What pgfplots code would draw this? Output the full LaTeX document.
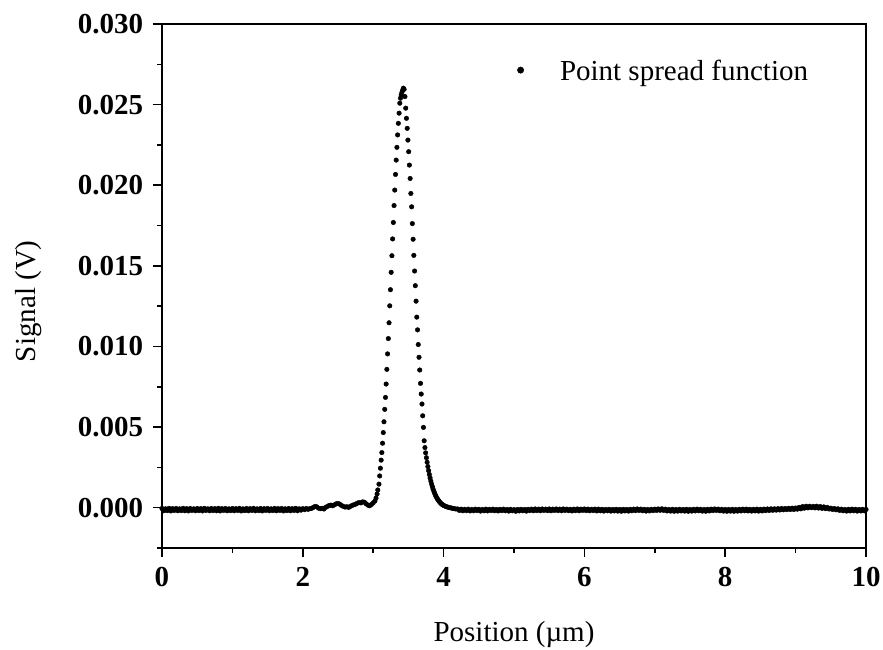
\documentclass[border=0pt]{standalone}
\usepackage{pgfplots}
\pgfplotsset{compat=1.18}
\usepackage{fontspec}
\setmainfont{Liberation Serif}

% Measured point spread function: position (um) vs. detector signal (V)
\pgfplotstableread{
x y
3.082 0.00146
3.092 0.00197
3.102 0.00245
3.113 0.00295
3.123 0.00342
3.133 0.00400
3.143 0.00466
3.153 0.00533
3.164 0.00610
3.174 0.00684
3.184 0.00767
3.194 0.00858
3.204 0.00954
3.215 0.01049
3.225 0.01147
3.235 0.01252
3.245 0.01352
3.255 0.01460
3.266 0.01563
3.276 0.01667
3.286 0.01769
3.296 0.01874
3.306 0.01970
3.317 0.02067
3.327 0.02156
3.337 0.02235
3.347 0.02312
3.357 0.02384
3.368 0.02447
3.378 0.02509
3.388 0.02540
3.398 0.02560
3.408 0.02575
3.419 0.02590
3.429 0.02602
3.439 0.02595
3.451 0.02550
3.462 0.02478
3.472 0.02415
3.483 0.02353
3.493 0.02280
3.504 0.02208
3.514 0.02125
3.525 0.02042
3.535 0.01949
3.546 0.01866
3.556 0.01762
3.567 0.01665
3.577 0.01565
3.588 0.01468
3.598 0.01377
3.609 0.01281
3.619 0.01182
3.630 0.01103
3.640 0.01012
3.651 0.00933
3.661 0.00854
3.672 0.00771
3.682 0.00705
3.693 0.00643
3.703 0.00570
3.714 0.00498
3.724 0.00415
3.735 0.00373
3.745 0.00340
3.756 0.00310
3.766 0.00282
3.777 0.00255
3.787 0.00230
3.798 0.00206
3.808 0.00185
3.819 0.00165
3.829 0.00147
3.840 0.00131
3.850 0.00116
3.861 0.00103
3.871 0.00091
3.882 0.00080
3.892 0.00070
3.903 0.00062
3.913 0.00054
3.924 0.00047
3.934 0.00041
3.945 0.00035
3.955 0.00030
3.966 0.00025
3.976 0.00021
3.987 0.00018
3.997 0.00015
4.010 0.00012
4.030 0.00008
4.050 0.00005
4.070 0.00002
4.090 0.00000
4.110 -0.00002
4.130 -0.00004
4.150 -0.00006
4.175 -0.00008
}\peaktable

\begin{document}
\fontsize{29pt}{34pt}\selectfont
\begin{tikzpicture}
\useasboundingbox (-162pt,-101pt) rectangle (721pt,548pt);
\begin{axis}[
  at={(0pt,0pt)}, anchor=south west,
  scale only axis, width=704pt, height=524pt,
  xmin=0, xmax=10, ymin=-0.0025, ymax=0.030,
  axis line style={line width=2pt},
  xtick={0,2,4,6,8,10}, minor xtick={1,3,5,7,9},
  ytick={0,0.005,0.01,0.015,0.02,0.025,0.03},
  minor ytick={-0.0025,0.0025,0.0075,0.0125,0.0175,0.0225,0.0275},
  xtick pos=left, ytick pos=left,
  tick align=outside, major tick length=9pt, minor tick length=5pt,
  every tick/.style={line width=1.5pt, black},
  scaled y ticks=false,
  /pgf/number format/assume math mode=true,
  yticklabel style={/pgf/number format/.cd, fixed, fixed zerofill, precision=3},
  tick label style={font=\bfseries},
  xticklabel style={anchor=base, yshift=-29.7pt},
  xlabel={Position (µm)},
  ylabel={Signal (V)},
  xlabel style={at={(axis description cs:0.5,-0.179)}, anchor=base},
  ylabel style={at={(axis description cs:-0.190,0.471)}, anchor=center},
  legend style={draw=none, fill=none, at={(axis description cs:0.5,0.936)},
    anchor=north west, nodes={inner sep=0pt},
    /tikz/every odd column/.append style={column sep=36pt}},
  legend image code/.code={\fill[black] (0pt,2pt) circle (3.2pt);},
  legend cell align=left,
]
\addplot[only marks, mark=*, mark size=2.3pt, black] coordinates {
(0.000,-0.00005) (0.025,-0.00019) (0.050,-0.00007) (0.075,-0.00018) (0.100,-0.00004) (0.125,-0.00020) (0.150,-0.00006) (0.175,-0.00017) (0.200,-0.00005) (0.225,-0.00019)
(0.250,-0.00007) (0.275,-0.00018) (0.300,-0.00004) (0.325,-0.00019) (0.350,-0.00006) (0.375,-0.00020) (0.400,-0.00005) (0.425,-0.00017) (0.450,-0.00007) (0.475,-0.00019)
(0.500,-0.00005) (0.525,-0.00018) (0.550,-0.00006) (0.575,-0.00020) (0.600,-0.00004) (0.625,-0.00017) (0.650,-0.00007) (0.675,-0.00019) (0.700,-0.00005) (0.725,-0.00018)
(0.750,-0.00006) (0.775,-0.00019) (0.800,-0.00004) (0.825,-0.00020) (0.850,-0.00006) (0.875,-0.00017) (0.900,-0.00005) (0.925,-0.00019) (0.950,-0.00007) (0.975,-0.00018)
(1.000,-0.00005) (1.025,-0.00019) (1.050,-0.00006) (1.075,-0.00017) (1.100,-0.00004) (1.125,-0.00020) (1.150,-0.00007) (1.175,-0.00018) (1.200,-0.00005) (1.225,-0.00019)
(1.250,-0.00006) (1.275,-0.00017) (1.300,-0.00004) (1.325,-0.00019) (1.350,-0.00007) (1.375,-0.00018) (1.400,-0.00005) (1.425,-0.00020) (1.450,-0.00006) (1.475,-0.00017)
(1.500,-0.00005) (1.525,-0.00019) (1.550,-0.00007) (1.575,-0.00018) (1.600,-0.00004) (1.625,-0.00019) (1.650,-0.00006) (1.675,-0.00017) (1.700,-0.00005) (1.725,-0.00020)
(1.750,-0.00007) (1.775,-0.00018) (1.800,-0.00005) (1.825,-0.00019) (1.850,-0.00006) (1.875,-0.00017) (1.900,-0.00004) (1.925,-0.00019) (1.950,-0.00007) (1.975,-0.00015)
(2.000,-0.00006) (2.025,-0.00012) (2.050,-0.00005) (2.075,-0.00010)
(2.100,-0.00006) (2.125,-0.00004) (2.150,0.00002) (2.175,0.00008) (2.200,0.00005) (2.225,-0.00003) (2.250,-0.00006) (2.275,-0.00004) (2.300,-0.00008) (2.325,0.00002)
(2.350,0.00008) (2.375,0.00014) (2.400,0.00016) (2.425,0.00012) (2.450,0.00018) (2.475,0.00024) (2.500,0.00026) (2.525,0.00022) (2.550,0.00014) (2.575,0.00008)
(2.600,0.00004) (2.625,0.00006) (2.650,0.00002) (2.675,0.00008) (2.700,0.00014) (2.725,0.00018) (2.750,0.00022) (2.775,0.00028) (2.800,0.00032) (2.825,0.00030)
(2.850,0.00036) (2.875,0.00034) (2.900,0.00024) (2.925,0.00016) (2.950,0.00012) (2.975,0.00020) (3.000,0.00030) (3.025,0.00042) (3.040,0.00060) (3.055,0.00085)
(3.065,0.00110)
(4.200,-0.00008) (4.225,-0.00017) (4.250,-0.00009) (4.275,-0.00019) (4.300,-0.00010) (4.325,-0.00018) (4.350,-0.00009) (4.375,-0.00020) (4.400,-0.00011) (4.425,-0.00019)
(4.450,-0.00009) (4.475,-0.00018) (4.500,-0.00010) (4.525,-0.00021) (4.550,-0.00011) (4.575,-0.00019) (4.600,-0.00009) (4.625,-0.00020) (4.650,-0.00010) (4.675,-0.00018)
(4.700,-0.00009) (4.725,-0.00019) (4.750,-0.00011) (4.775,-0.00020) (4.800,-0.00010) (4.825,-0.00018) (4.850,-0.00009) (4.875,-0.00019) (4.900,-0.00011) (4.925,-0.00021)
(4.950,-0.00010) (4.975,-0.00019) (5.000,-0.00012) (5.025,-0.00022) (5.050,-0.00011) (5.075,-0.00020) (5.100,-0.00010) (5.125,-0.00019) (5.150,-0.00011) (5.175,-0.00021)
(5.200,-0.00010) (5.225,-0.00018) (5.250,-0.00009) (5.275,-0.00019) (5.300,-0.00008) (5.325,-0.00018) (5.350,-0.00009) (5.375,-0.00019) (5.400,-0.00008) (5.425,-0.00017)
(5.450,-0.00009) (5.475,-0.00018) (5.500,-0.00008) (5.525,-0.00019) (5.550,-0.00009) (5.575,-0.00017) (5.600,-0.00008) (5.625,-0.00018) (5.650,-0.00009) (5.675,-0.00019)
(5.700,-0.00008) (5.725,-0.00017) (5.750,-0.00009) (5.775,-0.00018) (5.800,-0.00010) (5.825,-0.00020) (5.850,-0.00009) (5.875,-0.00018) (5.900,-0.00008) (5.925,-0.00019)
(5.950,-0.00009) (5.975,-0.00017) (6.000,-0.00008) (6.025,-0.00018) (6.050,-0.00009) (6.075,-0.00019) (6.100,-0.00010) (6.125,-0.00018) (6.150,-0.00009) (6.175,-0.00020)
(6.200,-0.00009) (6.225,-0.00019) (6.250,-0.00010) (6.275,-0.00021) (6.300,-0.00011) (6.325,-0.00019) (6.350,-0.00010) (6.375,-0.00021) (6.400,-0.00011) (6.425,-0.00020)
(6.450,-0.00010) (6.475,-0.00021) (6.500,-0.00011) (6.525,-0.00022) (6.550,-0.00010) (6.575,-0.00020) (6.600,-0.00011) (6.625,-0.00021) (6.650,-0.00010) (6.675,-0.00019)
(6.700,-0.00009) (6.725,-0.00018) (6.750,-0.00008) (6.775,-0.00017) (6.800,-0.00009) (6.825,-0.00019) (6.850,-0.00010) (6.875,-0.00021) (6.900,-0.00011) (6.925,-0.00020)
(6.950,-0.00010) (6.975,-0.00018) (7.000,-0.00009) (7.025,-0.00017) (7.050,-0.00008) (7.075,-0.00016) (7.100,-0.00007) (7.125,-0.00017) (7.150,-0.00009) (7.175,-0.00020)
(7.200,-0.00011) (7.225,-0.00021) (7.250,-0.00010) (7.275,-0.00022) (7.300,-0.00011) (7.325,-0.00021) (7.350,-0.00010) (7.375,-0.00020) (7.400,-0.00011) (7.425,-0.00021)
(7.450,-0.00010) (7.475,-0.00022) (7.500,-0.00011) (7.525,-0.00021) (7.550,-0.00010) (7.575,-0.00020) (7.600,-0.00009) (7.625,-0.00019) (7.650,-0.00010) (7.675,-0.00021)
(7.700,-0.00011) (7.725,-0.00022) (7.750,-0.00010) (7.775,-0.00020) (7.800,-0.00009) (7.825,-0.00018) (7.850,-0.00008) (7.875,-0.00017) (7.900,-0.00009) (7.925,-0.00019)
(7.950,-0.00010) (7.975,-0.00021) (8.000,-0.00011) (8.025,-0.00022) (8.050,-0.00011) (8.075,-0.00021) (8.100,-0.00010) (8.125,-0.00022) (8.150,-0.00011) (8.175,-0.00021)
(8.200,-0.00010) (8.225,-0.00020) (8.250,-0.00009) (8.275,-0.00019) (8.300,-0.00009) (8.325,-0.00020) (8.350,-0.00010) (8.375,-0.00021) (8.400,-0.00010) (8.425,-0.00020)
(8.450,-0.00009) (8.475,-0.00021) (8.500,-0.00010) (8.525,-0.00020) (8.550,-0.00009) (8.575,-0.00018) (8.600,-0.00008) (8.625,-0.00017) (8.650,-0.00007) (8.675,-0.00016)
(8.700,-0.00007) (8.725,-0.00015) (8.750,-0.00006) (8.775,-0.00014) (8.800,-0.00005) (8.825,-0.00013) (8.850,-0.00005) (8.875,-0.00012) (8.900,-0.00004) (8.925,-0.00011)
(8.950,-0.00003) (8.975,-0.00011) (9.000,-0.00002) (9.025,-0.00009) (9.050,0.00002) (9.075,-0.00007) (9.100,0.00007) (9.125,-0.00003) (9.150,0.00009) (9.175,-0.00001)
(9.200,0.00009) (9.225,0.00000) (9.250,0.00008) (9.275,-0.00001) (9.300,0.00009) (9.325,-0.00002) (9.350,0.00007) (9.375,-0.00004) (9.400,0.00005) (9.425,-0.00006)
(9.450,0.00002) (9.475,-0.00008) (9.500,-0.00003) (9.525,-0.00011) (9.550,-0.00005) (9.575,-0.00013) (9.600,-0.00007) (9.625,-0.00017) (9.650,-0.00009) (9.675,-0.00019)
(9.700,-0.00011) (9.725,-0.00021) (9.750,-0.00010) (9.775,-0.00020) (9.800,-0.00009) (9.825,-0.00019) (9.850,-0.00010) (9.875,-0.00021) (9.900,-0.00011) (9.925,-0.00020)
(9.950,-0.00010) (9.975,-0.00019) (10.000,-0.00011)
};
\addlegendentry{Point spread function}
\addplot[only marks, mark=*, mark size=2.3pt, black, forget plot] table[x=x, y=y] {\peaktable};
\end{axis}
\end{tikzpicture}
\end{document}
